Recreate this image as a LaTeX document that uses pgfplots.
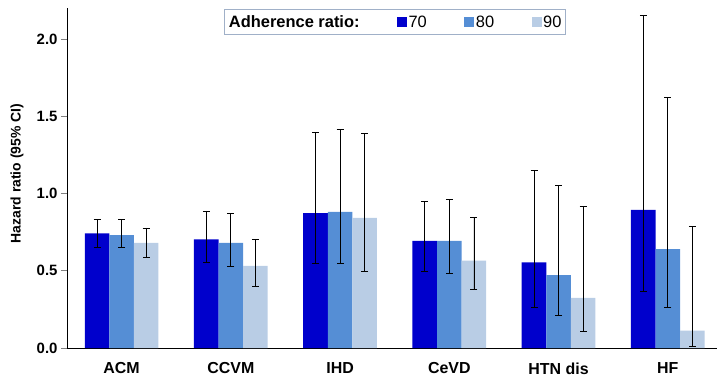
\documentclass[border=0pt]{standalone}
\usepackage{pgfplots}
\usepackage{pgfplotstable}
\pgfplotsset{compat=1.18}
\usepackage{fontspec}
\setmainfont{Liberation Sans}
\definecolor{cA}{RGB}{0,0,204}
\definecolor{cB}{RGB}{85,142,213}
\definecolor{cC}{RGB}{185,205,229}
\definecolor{legbd}{RGB}{160,176,200}

\pgfplotstableread{
x y lo hi
0 0.742 0.651 0.829
1 0.703 0.556 0.887
2 0.872 0.550 1.396
3 0.693 0.496 0.948
4 0.554 0.260 1.149
5 0.894 0.368 2.153
}\tabA
\pgfplotstableread{
x y lo hi
0 0.730 0.651 0.829
1 0.680 0.528 0.868
2 0.881 0.550 1.415
3 0.693 0.485 0.959
4 0.472 0.210 1.052
5 0.640 0.260 1.620
}\tabB
\pgfplotstableread{
x y lo hi
0 0.680 0.589 0.777
1 0.532 0.400 0.705
2 0.842 0.498 1.390
3 0.565 0.379 0.842
4 0.325 0.106 0.918
5 0.112 0.008 0.788
}\tabC

\begin{document}
\begin{tikzpicture}
\useasboundingbox (-67bp,-29bp) rectangle (650bp,348bp);
\begin{axis}[
  at={(0,0)}, anchor=south west,
  scale only axis,
  width=650bp, height=340bp,
  xmin=-0.5, xmax=5.45,
  ymin=0, ymax=2.2,
  ybar=0pt,
  axis x line=bottom, axis y line=left,
  axis line style={black, line width=0.9bp, -},
  xtick={0,1,2,3,4,5},
  xticklabels={ACM,CCVM,IHD,CeVD,HTN dis,HF},
  xtick style={draw=none},
  ytick={0,0.5,1,1.5,2},
  ytick align=outside,
  ytick style={gray, line width=0.8bp},
  major tick length=6bp,
  yticklabel style={/pgf/number format/.cd, fixed, precision=1, zerofill, assume math mode=true},
  tick label style={font=\bfseries\fontsize{15}{15}\selectfont},
  xticklabel style={font=\bfseries\fontsize{16}{16}\selectfont, yshift=-8bp},
  ylabel={\bfseries Hazard ratio (95\% CI)},
  ylabel style={font=\fontsize{14}{14}\selectfont, at={(axis description cs:-0.077,0.513)}, anchor=center},
  bar width=0.225,
  clip=false,
  legend columns=4,
  legend style={at={(axis description cs:0.2415,0.997)}, anchor=north west,
    draw=legbd, line width=1bp, font=\fontsize{16.5}{16.5}\selectfont,
    inner ysep=4bp, inner xsep=3bp,
    nodes={inner xsep=1.5bp},
    /tikz/every even column/.append style={column sep=36bp}},
  legend image code/.code={\fill[#1] (0bp,-5bp) rectangle (10bp,5bp);},
  error bars/y dir=both, error bars/y explicit,
  error bars/error bar style={black, line width=0.8bp},
  error bars/error mark options={rotate=90, mark size=3.5bp, black, line width=0.8bp},
]
\addlegendimage{empty legend}
\addlegendentry{\bfseries Adherence ratio:\hspace{14bp}}
\addplot[fill=cA, draw=none, bar shift=-0.225] table[x=x, y=y, y error plus expr=\thisrow{hi}-\thisrow{y}, y error minus expr=\thisrow{y}-\thisrow{lo}] {\tabA};
\addlegendentry{70}
\addplot[fill=cB, draw=none, bar shift=0] table[x=x, y=y, y error plus expr=\thisrow{hi}-\thisrow{y}, y error minus expr=\thisrow{y}-\thisrow{lo}] {\tabB};
\addlegendentry{80}
\addplot[fill=cC, draw=none, bar shift=0.225] table[x=x, y=y, y error plus expr=\thisrow{hi}-\thisrow{y}, y error minus expr=\thisrow{y}-\thisrow{lo}] {\tabC};
\addlegendentry{90}
\end{axis}
\end{tikzpicture}
\end{document}
